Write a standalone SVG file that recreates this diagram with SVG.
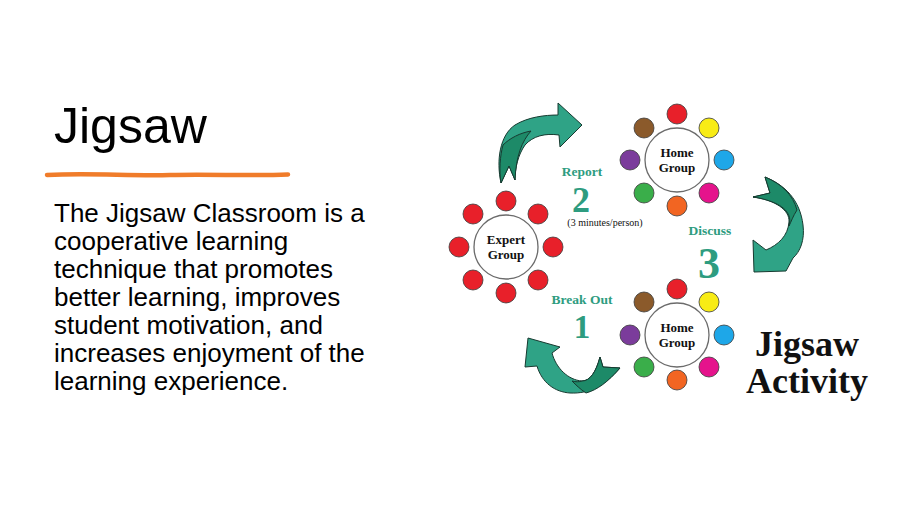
<svg xmlns="http://www.w3.org/2000/svg" width="900" height="506" viewBox="0 0 900 506">
<style>
.body{font-family:"Liberation Sans",Arial,sans-serif;font-size:26px;fill:#000}
.title{font-family:"Liberation Sans",Arial,sans-serif;font-size:50px;fill:#000}
.hub{fill:#fff;stroke:#6b6b6b;stroke-width:1.3}
.dot{stroke:#3a3a3a;stroke-width:0.8}
.hubt{font-family:"Liberation Serif","Times New Roman",serif;font-weight:bold;font-size:13px;fill:#111;text-anchor:middle}
.lbl{font-family:"Liberation Serif","Times New Roman",serif;font-weight:bold;font-size:13.5px;fill:#2e9c80;text-anchor:middle}
.num{font-family:"Liberation Serif","Times New Roman",serif;font-weight:bold;fill:#2e9c80;text-anchor:middle}
.arr{fill:#2fa386;stroke:#173a30;stroke-width:1;stroke-linejoin:round}
.arrd{fill:#1d8a68;stroke:#173a30;stroke-width:1;stroke-linejoin:round}
.big{font-family:"Liberation Serif","Times New Roman",serif;font-weight:bold;font-size:36px;fill:#111;text-anchor:middle}
.r{fill:#e8202a}.br{fill:#8b5a2b}.y{fill:#f8ec15}.p{fill:#7b3c9b}.b{fill:#1ea7e8}.g{fill:#3aae4a}.m{fill:#e5138c}.o{fill:#f26522}
</style>
<rect width="900" height="506" fill="#fff"/>
<g id="title">
<text class="title" x="54" y="143">Jigsaw</text>
<path d="M47,175 C90,173 130,176 170,175 C210,174 250,176 288,174.5" fill="none" stroke="#f07c2a" stroke-width="4.5" stroke-linecap="round"/>
</g>
<g id="body">
<text class="body" x="54" y="222">The Jigsaw Classroom is a</text>
<text class="body" x="54" y="250">cooperative learning</text>
<text class="body" x="54" y="278">technique that promotes</text>
<text class="body" x="54" y="306">better learning, improves</text>
<text class="body" x="54" y="334">student motivation, and</text>
<text class="body" x="54" y="362">increases enjoyment of the</text>
<text class="body" x="54" y="390">learning experience.</text>
</g>
<g id="connectors">
<g id="arrow-report">
<path class="arr" d="M501,183 C496,160 500,135 515,125 C528,117 545,115 558,115 L558,103 L582,125 L560,147 L559,135 C545,133 533,136 525,145 C518,155 515,168 515,180 L509,166 Z"/>
<path class="arrd" d="M503,145 C510,138 520,133 531,131 C522,141 516,156 515,180 L509,166 L501,183 C499,170 500,156 503,145 Z"/>
</g>
<g id="arrow-discuss">
<path class="arr" d="M765,177 C785,185 800,200 803,225 C805,240 800,252 793,258 L786,271 L754,272 L753,240 L766,250 C778,245 788,236 789,222 C790,210 775,200 753,197 L770,193 Z"/>
<path class="arrd" d="M765,177 C782,184 793,195 797,210 C793,216 791,222 789,226 C790,222 790,218 789,216 C786,207 773,200 753,197 L770,193 Z"/>
</g>
<g id="arrow-breakout">
<path class="arr" d="M620,368 C605,385 590,394 570,393 C555,392 542,383 537,366 L525,367 L528,338 L560,347 L552,353 C556,368 568,380 582,381 C590,381 596,372 600,357 L603,367 Z"/>
<path class="arrd" d="M620,368 C608,382 597,390 586,393 C580,389 576,385 572,381 C576,382 579,382 582,381 C590,381 596,372 600,357 L603,367 Z"/>
</g>
</g>
<g id="expert-group">
<circle class="hub" cx="506" cy="247" r="32"/>
<circle class="dot r" cx="506" cy="201" r="10"/>
<circle class="dot r" cx="473" cy="214" r="10"/>
<circle class="dot r" cx="538" cy="214" r="10"/>
<circle class="dot r" cx="459" cy="247" r="10"/>
<circle class="dot r" cx="553" cy="247" r="10"/>
<circle class="dot r" cx="473" cy="280" r="10"/>
<circle class="dot r" cx="538" cy="280" r="10"/>
<circle class="dot r" cx="506" cy="293" r="10"/>
<text class="hubt" x="506" y="244">Expert</text>
<text class="hubt" x="506" y="259">Group</text>
</g>
<g id="home-group-top">
<circle class="hub" cx="677" cy="160" r="32"/>
<circle class="dot r" cx="677" cy="114" r="10"/>
<circle class="dot br" cx="644" cy="128" r="10"/>
<circle class="dot y" cx="709" cy="128" r="10"/>
<circle class="dot p" cx="630" cy="160" r="10"/>
<circle class="dot b" cx="724" cy="160" r="10"/>
<circle class="dot g" cx="644" cy="193" r="10"/>
<circle class="dot m" cx="709" cy="193" r="10"/>
<circle class="dot o" cx="677" cy="206" r="10"/>
<text class="hubt" x="677" y="157">Home</text>
<text class="hubt" x="677" y="172">Group</text>
</g>
<g id="home-group-bottom">
<circle class="hub" cx="677" cy="335" r="32"/>
<circle class="dot r" cx="677" cy="289" r="10"/>
<circle class="dot br" cx="644" cy="302" r="10"/>
<circle class="dot y" cx="709" cy="302" r="10"/>
<circle class="dot p" cx="630" cy="335" r="10"/>
<circle class="dot b" cx="724" cy="335" r="10"/>
<circle class="dot g" cx="644" cy="367" r="10"/>
<circle class="dot m" cx="709" cy="367" r="10"/>
<circle class="dot o" cx="677" cy="380" r="10"/>
<text class="hubt" x="677" y="332">Home</text>
<text class="hubt" x="677" y="347">Group</text>
</g>
<g id="label-report">
<text class="lbl" x="582" y="176">Report</text>
<text class="num" x="581" y="212" font-size="36">2</text>
<text x="605" y="226" font-family="Liberation Serif,'Times New Roman',serif" font-size="10" fill="#111" text-anchor="middle">(3 minutes/person)</text>
</g>
<g id="label-discuss">
<text class="lbl" x="710" y="235">Discuss</text>
<text class="num" x="709" y="278" font-size="44">3</text>
</g>
<g id="label-breakout">
<text class="lbl" x="582" y="304">Break Out</text>
<text class="num" x="582" y="338" font-size="33">1</text>
</g>
<g id="jigsaw-activity">
<text class="big" x="807" y="356">Jigsaw</text>
<text class="big" x="807" y="393">Activity</text>
</g>
</svg>
